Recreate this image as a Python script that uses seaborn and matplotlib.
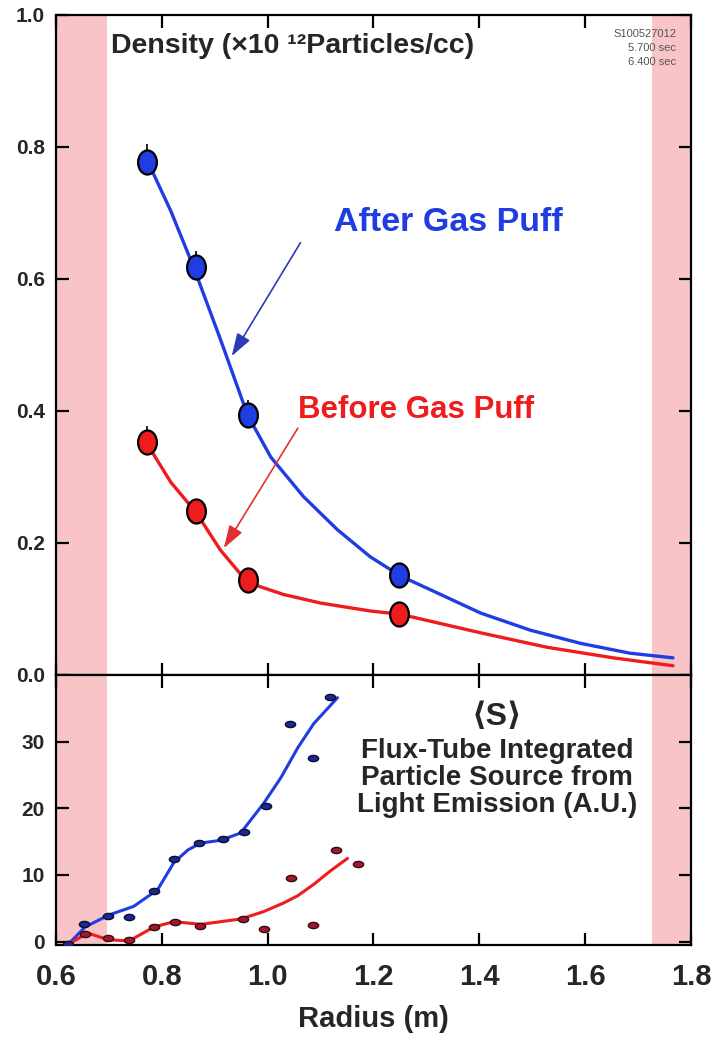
import numpy as np
import pandas as pd
import matplotlib
matplotlib.use("Agg")
import matplotlib.pyplot as plt
from matplotlib.path import Path
from matplotlib.transforms import Affine2D
import seaborn as sns

# ---- density profiles (x 10^12 particles/cc) ----
radius_pts = [0.772, 0.864, 0.962, 1.249]
after_pts = [0.777, 0.618, 0.394, 0.151]
before_pts = [0.353, 0.248, 0.144, 0.092]
after_err = [0.027, 0.025, 0.022, 0.0]
before_err = [0.025, 0.0, 0.0, 0.0]

after_fit_r = [0.774, 0.817, 0.860, 0.911, 0.962, 1.006, 1.068, 1.132, 1.194,
               1.251, 1.308, 1.402, 1.496, 1.591, 1.685, 1.766]
after_fit_n = [0.777, 0.703, 0.618, 0.508, 0.394, 0.330, 0.270, 0.220, 0.179,
               0.150, 0.129, 0.094, 0.068, 0.048, 0.033, 0.026]
before_fit_r = [0.770, 0.817, 0.864, 0.911, 0.958, 0.985, 1.030, 1.100, 1.194,
                1.251, 1.402, 1.528, 1.653, 1.766]
before_fit_n = [0.353, 0.292, 0.247, 0.189, 0.144, 0.134, 0.122, 0.109, 0.097,
                0.092, 0.064, 0.042, 0.026, 0.014]

# ---- flux-tube integrated particle source (A.U.) ----
src_after_r = [0.623, 0.653, 0.698, 0.738, 0.785, 0.823, 0.870, 0.915, 0.955,
               0.996, 1.042, 1.085, 1.117]
src_after_s = [-0.3, 2.7, 3.9, 3.7, 7.6, 12.4, 14.8, 15.4, 16.4, 20.3, 32.7,
               27.6, 36.7]
src_before_r = [0.655, 0.698, 0.738, 0.785, 0.825, 0.872, 0.953, 0.994, 1.045,
                1.085, 1.130, 1.170]
src_before_s = [1.2, 0.6, 0.3, 2.2, 3.0, 2.4, 3.4, 1.9, 9.6, 2.5, 13.7, 11.6]

src_after_fit_r = [0.623, 0.655, 0.700, 0.747, 0.792, 0.823, 0.850, 0.874,
                   0.911, 0.949, 0.992, 1.025, 1.057, 1.087, 1.132]
src_after_fit_s = [-0.4, 2.2, 4.0, 5.3, 7.8, 11.9, 13.8, 14.8, 15.2, 16.3,
                   20.7, 24.6, 29.1, 32.7, 36.6]
src_before_fit_r = [0.623, 0.660, 0.698, 0.738, 0.785, 0.823, 0.874, 0.949,
                    0.992, 1.030, 1.057, 1.087, 1.120, 1.151]
src_before_fit_s = [-0.4, 1.3, 0.3, 0.1, 2.2, 3.0, 2.6, 3.4, 4.5, 5.8, 6.9,
                    8.6, 10.7, 12.5]

x_ticks = [0.6, 0.8, 1.0, 1.2, 1.4, 1.6, 1.8]
dens_ticks = [0.0, 0.2, 0.4, 0.6, 0.8, 1.0]
src_ticks = [0, 10, 20, 30]
limiter_bands = [(0.6, 0.696), (1.727, 1.8)]

BLUE = "#1f3de0"
RED = "#ee1c1c"
PINK = "#f9c4c8"

sns.set_style("ticks")
plt.rcParams["font.family"] = ["Liberation Sans", "DejaVu Sans"]
plt.rcParams["font.weight"] = "bold"

fig = plt.figure(figsize=(7.19, 10.37), dpi=100)
W, H = 719, 1037
x0, x1 = 56, 691
ax = fig.add_axes([x0 / W, (H - 675) / H, (x1 - x0) / W, 660 / H])
ax2 = fig.add_axes([x0 / W, (H - 945) / H, (x1 - x0) / W, 270 / H])

tall_ellipse = Path.unit_circle().transformed(Affine2D().scale(0.78, 1.0))
flat_ellipse = Path.unit_circle().transformed(Affine2D().scale(1.0, 0.6))

for a in (ax, ax2):
    for lo, hi in limiter_bands:
        a.axvspan(lo, hi, color=PINK, lw=0, zorder=0)
    a.set_xlim(0.6, 1.8)
    a.set_xticks(x_ticks)
    a.tick_params(direction="in", length=9, width=1.6, top=True, right=True,
                  color="black")
    a.tick_params(axis="y", pad=8)
    for s in a.spines.values():
        s.set_linewidth(1.6)
        s.set_color("black")

# ---- top panel: density ----
fit_a = pd.DataFrame({"r": after_fit_r, "n": after_fit_n})
fit_b = pd.DataFrame({"r": before_fit_r, "n": before_fit_n})
sns.lineplot(data=fit_a, x="r", y="n", sort=False, estimator=None, color=BLUE,
             lw=2.4, ax=ax, zorder=2)
sns.lineplot(data=fit_b, x="r", y="n", sort=False, estimator=None, color=RED,
             lw=2.4, ax=ax, zorder=2)
ax.errorbar(radius_pts, after_pts, yerr=[np.zeros(4), after_err], fmt="none",
            ecolor="black", elinewidth=1.2, zorder=3)
ax.errorbar(radius_pts, before_pts, yerr=[np.zeros(4), before_err], fmt="none",
            ecolor="black", elinewidth=1.2, zorder=3)
pts = pd.DataFrame({"r": radius_pts, "after": after_pts, "before": before_pts})
sns.scatterplot(data=pts, x="r", y="after", marker=tall_ellipse, s=300,
                color=BLUE, edgecolor="black", linewidth=1.6, ax=ax, zorder=4)
sns.scatterplot(data=pts, x="r", y="before", marker=tall_ellipse, s=300,
                color=RED, edgecolor="black", linewidth=1.6, ax=ax, zorder=4)

ax.set_ylim(0, 1.0)
ax.set_yticks(dens_ticks)
ax.set_yticklabels([f"{v:.1f}" for v in dens_ticks], fontsize=15,
                   fontweight="bold")
ax.set_xticklabels([])
ax.set_xlabel("")
ax.set_ylabel("")

ax.text(0.704, 0.953, "Density (×10 ¹²Particles/cc)", fontsize=20.5,
        fontweight="bold", va="center", ha="left")
ax.text(1.772, 0.950, "S100527012\n5.700 sec\n6.400 sec", fontsize=8,
        fontweight="normal", color="#555555", ha="right", va="center",
        linespacing=1.45)
ax.text(1.125, 0.686, "After Gas Puff", fontsize=24.5, fontweight="bold",
        color=BLUE, va="center", ha="left")
ax.text(1.057, 0.4015, "Before Gas Puff", fontsize=22.5, fontweight="bold",
        color=RED, va="center", ha="left")
ax.annotate("", xy=(0.932, 0.483), xytext=(1.062, 0.655),
            arrowprops=dict(arrowstyle="-|>,head_length=1.4,head_width=0.45",
                            color="#2b3bb5", lw=1.2, shrinkA=0, shrinkB=0))
ax.annotate("", xy=(0.917, 0.192), xytext=(1.057, 0.374),
            arrowprops=dict(arrowstyle="-|>,head_length=1.4,head_width=0.45",
                            color="#e23030", lw=1.2, shrinkA=0, shrinkB=0))

# ---- bottom panel: particle source ----
sfit_a = pd.DataFrame({"r": src_after_fit_r, "s": src_after_fit_s})
sfit_b = pd.DataFrame({"r": src_before_fit_r, "s": src_before_fit_s})
sns.lineplot(data=sfit_a, x="r", y="s", sort=False, estimator=None, color=BLUE,
             lw=2.2, ax=ax2, zorder=2)
sns.lineplot(data=sfit_b, x="r", y="s", sort=False, estimator=None, color=RED,
             lw=2.2, ax=ax2, zorder=2)
sdots_a = pd.DataFrame({"r": src_after_r, "s": src_after_s})
sdots_b = pd.DataFrame({"r": src_before_r, "s": src_before_s})
sns.scatterplot(data=sdots_a, x="r", y="s", marker=flat_ellipse, s=55,
                color="#1e2a8a", edgecolor="#0a0c3a", linewidth=1.0, ax=ax2,
                zorder=3)
sns.scatterplot(data=sdots_b, x="r", y="s", marker=flat_ellipse, s=55,
                color="#a3182e", edgecolor="#3a0810", linewidth=1.0, ax=ax2,
                zorder=3)

ax2.set_ylim(-0.5, 40)
ax2.set_yticks(src_ticks)
ax2.set_yticklabels([str(v) for v in src_ticks], fontsize=15,
                    fontweight="bold")
ax2.set_xticklabels([f"{v:.1f}" for v in x_ticks], fontsize=21,
                    fontweight="bold")
ax2.set_ylabel("")
ax2.set_xlabel("Radius (m)", fontsize=21, fontweight="bold", labelpad=10)
ax2.tick_params(axis="x", pad=13)

ax2.text(1.434, 33.7, "⟨S⟩", fontsize=23, fontweight="bold", ha="center",
         va="center")
ax2.text(1.434, 24.6, "Flux-Tube Integrated\nParticle Source from\n"
         "Light Emission (A.U.)", fontsize=20, fontweight="bold",
         ha="center", va="center", multialignment="center", linespacing=1.05)

fig.savefig("out.png", dpi=100)
